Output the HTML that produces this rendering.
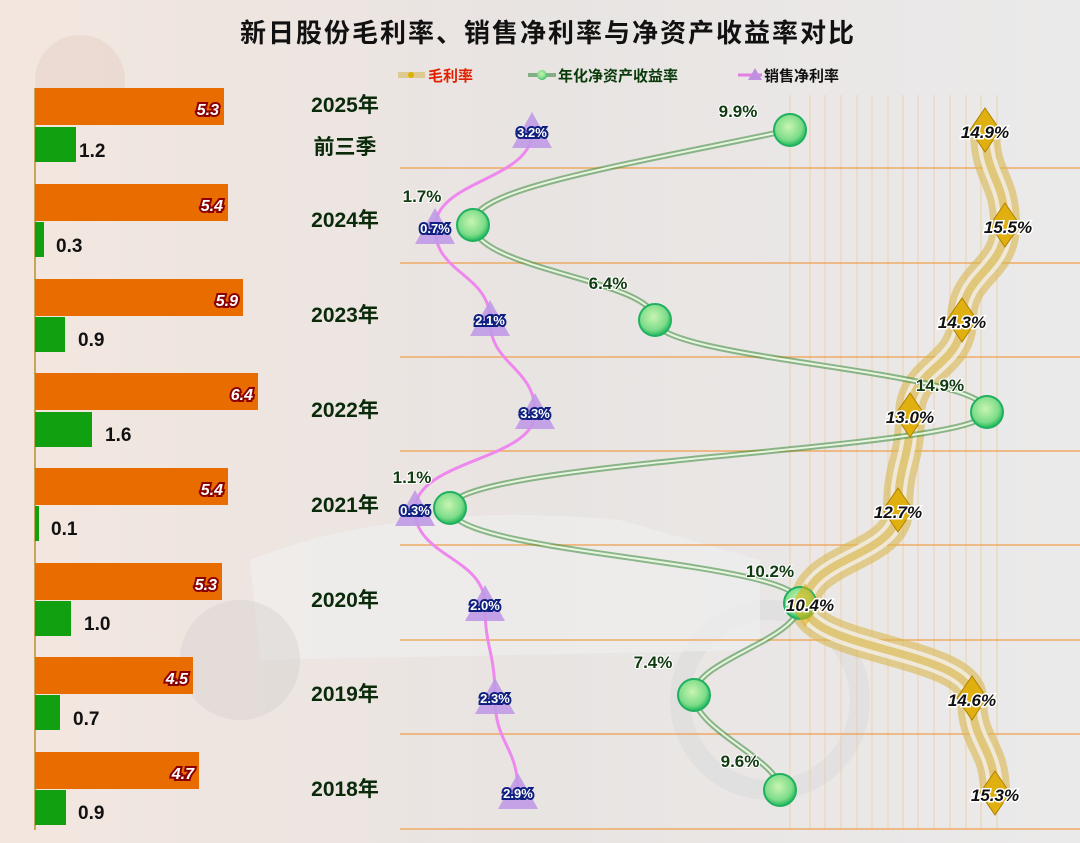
<!DOCTYPE html>
<html><head><meta charset="utf-8"><style>
body{margin:0;width:1080px;height:843px;overflow:hidden;background:#e9e9e9;font-family:"Liberation Sans","Noto Sans CJK SC",sans-serif;}
</style></head><body>
<svg width="1080" height="843" xmlns="http://www.w3.org/2000/svg" style="position:absolute;left:0;top:0">
<defs>
<radialGradient id="gc" cx="0.45" cy="0.4" r="0.6"><stop offset="0" stop-color="#c8f5b0"/><stop offset="0.7" stop-color="#7ddc8a"/><stop offset="1" stop-color="#1fb85a"/></radialGradient>
<linearGradient id="bgg" x1="0" y1="0" x2="1" y2="0"><stop offset="0" stop-color="#f3e6df"/><stop offset="0.5" stop-color="#e8e4e2"/><stop offset="1" stop-color="#ebeaea"/></linearGradient>
</defs>
<rect width="1080" height="843" fill="url(#bgg)"/>
<!-- faint background scooter shapes -->
<ellipse cx="770" cy="700" rx="90" ry="90" fill="none" stroke="#dcdcdc" stroke-width="20" opacity="0.6"/>
<path d="M250 560 Q400 500 620 520 L760 560 L760 650 L260 660 Z" fill="#f0f0f0" opacity="0.6"/>
<ellipse cx="240" cy="660" rx="60" ry="60" fill="#d8d4d2" opacity="0.5"/>
<ellipse cx="80" cy="80" rx="45" ry="45" fill="#e6d0c6" opacity="0.5"/>
<!-- vertical faint lines -->
<g stroke="#f0c890" stroke-width="1" opacity="0.7">
<line x1="790" y1="95" x2="790" y2="830"/><line x1="810" y1="95" x2="810" y2="830"/><line x1="825" y1="95" x2="825" y2="830"/><line x1="841" y1="95" x2="841" y2="830"/><line x1="857" y1="95" x2="857" y2="830"/><line x1="872" y1="95" x2="872" y2="830"/><line x1="888" y1="95" x2="888" y2="830"/><line x1="903" y1="95" x2="903" y2="830"/><line x1="918" y1="95" x2="918" y2="830"/><line x1="934" y1="95" x2="934" y2="830"/><line x1="950" y1="95" x2="950" y2="830"/><line x1="966" y1="95" x2="966" y2="830"/><line x1="981" y1="95" x2="981" y2="830"/><line x1="997" y1="95" x2="997" y2="830"/>
</g>
<!-- horizontal separators -->
<g stroke="#f0a050" stroke-width="1.5" opacity="0.85">
<line x1="400" y1="168" x2="1080" y2="168"/><line x1="400" y1="263" x2="1080" y2="263"/><line x1="400" y1="357" x2="1080" y2="357"/><line x1="400" y1="451" x2="1080" y2="451"/><line x1="400" y1="545" x2="1080" y2="545"/><line x1="400" y1="640" x2="1080" y2="640"/><line x1="400" y1="734" x2="1080" y2="734"/><line x1="400" y1="829" x2="1080" y2="829"/>
</g>
<!-- title -->
<text x="548" y="42" text-anchor="middle" font-size="26" font-weight="bold" fill="#111" letter-spacing="2">新日股份毛利率、销售净利率与净资产收益率对比</text>
<!-- legend -->
<g font-size="15" font-weight="bold">
<line x1="398" y1="75" x2="425" y2="75" stroke="#d8c070" stroke-width="6" opacity="0.7"/><circle cx="411" cy="75" r="3" fill="#e0b000"/>
<text x="428" y="81" fill="#e02000">毛利率</text>
<line x1="528" y1="75" x2="556" y2="75" stroke="#5a9a5a" stroke-width="4" opacity="0.7"/><circle cx="542" cy="75" r="5" fill="url(#gc)"/>
<text x="558" y="81" fill="#0a3a0a">年化净资产收益率</text>
<line x1="738" y1="75" x2="762" y2="75" stroke="#e080e0" stroke-width="3"/><path d="M755 68 L762 80 L748 80 Z" fill="#c090e0"/>
<text x="764" y="81" fill="#111">销售净利率</text>
</g>
<!-- axis -->
<line x1="35" y1="88" x2="35" y2="830" stroke="#b89030" stroke-width="1.5"/>
<!-- bars -->
<g>
<rect x="35" y="88" width="189" height="37" fill="#e86c00"/><rect x="35" y="127" width="41" height="35" fill="#10a010"/>
<rect x="35" y="184" width="193" height="37" fill="#e86c00"/><rect x="35" y="222" width="9" height="35" fill="#10a010"/>
<rect x="35" y="279" width="208" height="37" fill="#e86c00"/><rect x="35" y="317" width="30" height="35" fill="#10a010"/>
<rect x="35" y="373" width="223" height="37" fill="#e86c00"/><rect x="35" y="412" width="57" height="35" fill="#10a010"/>
<rect x="35" y="468" width="193" height="37" fill="#e86c00"/><rect x="35" y="506" width="4" height="35" fill="#10a010"/>
<rect x="35" y="563" width="187" height="37" fill="#e86c00"/><rect x="35" y="601" width="36" height="35" fill="#10a010"/>
<rect x="35" y="657" width="158" height="37" fill="#e86c00"/><rect x="35" y="695" width="25" height="35" fill="#10a010"/>
<rect x="35" y="752" width="164" height="37" fill="#e86c00"/><rect x="35" y="790" width="31" height="35" fill="#10a010"/>
</g>
<g font-size="16" font-weight="bold" font-style="italic" fill="#fff" stroke="#8a0000" stroke-width="4" paint-order="stroke" text-anchor="end">
<text x="219" y="115">5.3</text><text x="223" y="211">5.4</text><text x="238" y="306">5.9</text><text x="253" y="400">6.4</text><text x="223" y="495">5.4</text><text x="217" y="590">5.3</text><text x="188" y="684">4.5</text><text x="194" y="779">4.7</text>
</g>
<g font-size="19" font-weight="bold" fill="#111">
<text x="79" y="157">1.2</text><text x="56" y="252">0.3</text><text x="78" y="346">0.9</text><text x="105" y="441">1.6</text><text x="51" y="535">0.1</text><text x="84" y="630">1.0</text><text x="73" y="725">0.7</text><text x="78" y="819">0.9</text>
</g>
<!-- year labels -->
<g font-size="21" font-weight="bold" fill="#0a2a0a" text-anchor="middle">
<text x="345" y="112">2025年</text><text x="345" y="154">前三季</text><text x="345" y="227">2024年</text><text x="345" y="322">2023年</text><text x="345" y="417">2022年</text><text x="345" y="512">2021年</text><text x="345" y="607">2020年</text><text x="345" y="701">2019年</text><text x="345" y="796">2018年</text>
</g>
<!-- gross margin path -->
<path d="M985 130 C985 178 1005 178 1005 225 C1005 272 962 272 962 320 C962 367 910 367 910 415 C910 462 898 462 898 510 C898 557 805 557 805 605 C805 650 972 650 972 698 C972 745 995 745 995 793" fill="none" stroke="#d8b850" stroke-width="30" opacity="0.6"/>
<path d="M985 130 C985 178 1005 178 1005 225 C1005 272 962 272 962 320 C962 367 910 367 910 415 C910 462 898 462 898 510 C898 557 805 557 805 605 C805 650 972 650 972 698 C972 745 995 745 995 793" fill="none" stroke="#f2efe6" stroke-width="16" opacity="0.85"/>
<path d="M985 130 C985 178 1005 178 1005 225 C1005 272 962 272 962 320 C962 367 910 367 910 415 C910 462 898 462 898 510 C898 557 805 557 805 605 C805 650 972 650 972 698 C972 745 995 745 995 793" fill="none" stroke="#d8b850" stroke-width="8" opacity="0.7"/>
<!-- ROE path -->
<path d="M790 130 C600 170 470 190 473 225 C476 270 655 280 655 320 C655 360 987 370 987 412 C987 450 450 460 450 508 C450 555 800 560 800 603 C800 640 694 660 694 695 C694 730 780 760 780 790" fill="none" stroke="#3a8a3a" stroke-width="6" opacity="0.55"/>
<path d="M790 130 C600 170 470 190 473 225 C476 270 655 280 655 320 C655 360 987 370 987 412 C987 450 450 460 450 508 C450 555 800 560 800 603 C800 640 694 660 694 695 C694 730 780 760 780 790" fill="none" stroke="#e8f5e0" stroke-width="2"/>
<!-- net margin path -->
<path d="M532 132 C532 180 435 180 435 228 C435 274 490 274 490 320 C490 366 535 366 535 413 C535 460 415 460 415 510 C415 557 485 557 485 605 C485 650 495 650 495 698 C495 745 518 745 518 793" fill="none" stroke="#ee88ee" stroke-width="3"/>
<!-- diamonds -->
<g fill="#e0b010" stroke="#b08000" stroke-width="1">
<path d="M985 108 L1000 130 L985 152 L970 130Z"/><path d="M1005 203 L1020 225 L1005 247 L990 225Z"/><path d="M962 298 L977 320 L962 342 L947 320Z"/><path d="M910 393 L925 415 L910 437 L895 415Z"/><path d="M898 488 L913 510 L898 532 L883 510Z"/><path d="M972 676 L987 698 L972 720 L957 698Z"/><path d="M995 771 L1010 793 L995 815 L980 793Z"/>
</g>
<!-- circles -->
<g fill="url(#gc)" stroke="#20b060" stroke-width="2">
<circle cx="790" cy="130" r="16"/><circle cx="473" cy="225" r="16"/><circle cx="655" cy="320" r="16"/><circle cx="987" cy="412" r="16"/><circle cx="450" cy="508" r="16"/><circle cx="800" cy="603" r="16"/><circle cx="694" cy="695" r="16"/><circle cx="780" cy="790" r="16"/>
</g>
<path d="M805 583 L820 605 L805 627 L790 605Z" fill="#e0b010" opacity="0.6"/>
<!-- triangles -->
<g fill="#c09ae6" opacity="0.9">
<path d="M532 112 L552 148 L512 148Z"/><path d="M435 208 L455 244 L415 244Z"/><path d="M490 300 L510 336 L470 336Z"/><path d="M535 393 L555 429 L515 429Z"/><path d="M415 490 L435 526 L395 526Z"/><path d="M485 585 L505 621 L465 621Z"/><path d="M495 678 L515 714 L475 714Z"/><path d="M518 773 L538 809 L498 809Z"/>
</g>
<!-- net margin labels -->
<g font-size="13" font-weight="bold" fill="#fff" stroke="#102080" stroke-width="4" paint-order="stroke" text-anchor="middle">
<text x="532" y="137">3.2%</text><text x="435" y="233">0.7%</text><text x="490" y="325">2.1%</text><text x="535" y="418">3.3%</text><text x="415" y="515">0.3%</text><text x="485" y="610">2.0%</text><text x="495" y="703">2.3%</text><text x="518" y="798">2.9%</text>
</g>
<!-- ROE labels -->
<g font-size="17" font-weight="bold" fill="#103a10" stroke="#fff" stroke-width="2" paint-order="stroke" text-anchor="middle">
<text x="738" y="117">9.9%</text><text x="422" y="202">1.7%</text><text x="608" y="289">6.4%</text><text x="940" y="391">14.9%</text><text x="412" y="483">1.1%</text><text x="770" y="577">10.2%</text><text x="653" y="668">7.4%</text><text x="740" y="767">9.6%</text>
</g>
<!-- GM labels -->
<g font-size="17" font-weight="bold" font-style="italic" fill="#111" stroke="#fff" stroke-width="3" paint-order="stroke" text-anchor="middle">
<text x="985" y="138">14.9%</text><text x="1008" y="233">15.5%</text><text x="962" y="328">14.3%</text><text x="910" y="423">13.0%</text><text x="898" y="518">12.7%</text><text x="810" y="611">10.4%</text><text x="972" y="706">14.6%</text><text x="995" y="801">15.3%</text>
</g>
</svg>
</body></html>
